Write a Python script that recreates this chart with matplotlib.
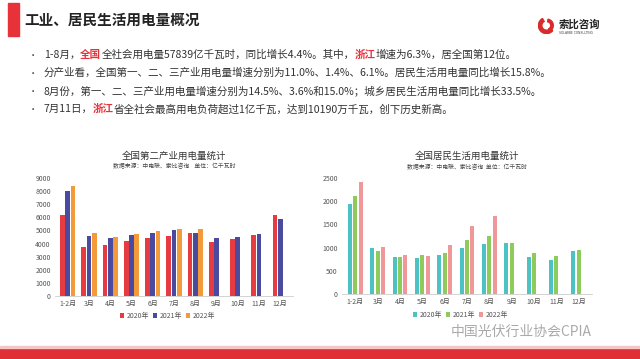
import numpy as np
import matplotlib
matplotlib.use("Agg")
import matplotlib.pyplot as plt
from matplotlib.patches import Rectangle, Wedge

plt.rcParams['font.family'] = ['Noto Sans CJK SC', 'DejaVu Sans']

# === Données ===
months = ['1-2月', '3月', '4月', '5月', '6月', '7月', '8月', '9月', '10月', '11月', '12月']
years = ['2020年', '2021年', '2022年']

ind_2020 = [6200, 3700, 3880, 4190, 4400, 4580, 4800, 4110, 4320, 4650, 6160]
ind_2021 = [8000, 4600, 4420, 4680, 4830, 5040, 4830, 4420, 4500, 4760, 5850]
ind_2022 = [8400, 4800, 4470, 4760, 4960, 5140, 5110]

res_2020 = [1940, 995, 805, 770, 830, 980, 1080, 1100, 805, 730, 915]
res_2021 = [2120, 930, 800, 835, 885, 1170, 1250, 1100, 885, 815, 950]
res_2022 = [2410, 1015, 835, 815, 1045, 1470, 1675]

bullets = [
    [("1-8月，", None), ("全国", 'red'), ("全社会用电量57839亿千瓦时，同比增长4.4%。其中，", None),
     ("浙江", 'red'), ("增速为6.3%，居全国第12位。", None)],
    [("分产业看，全国第一、二、三产业用电量增速分别为11.0%、1.4%、6.1%。居民生活用电量同比增长15.8%。", None)],
    [("8月份，第一、二、三产业用电量增速分别为14.5%、3.6%和15.0%；城乡居民生活用电量同比增长33.5%。", None)],
    [("7月11日，", None), ("浙江", 'red'), ("省全社会最高用电负荷超过1亿千瓦，达到10190万千瓦，创下历史新高。", None)],
]

W, H = 640, 359
fig = plt.figure(figsize=(W / 100, H / 100), dpi=100)
fig.patch.set_facecolor('white')

def px(x, y):
    return x / W, 1 - y / H

# === En-tête ===
fig.patches.append(Rectangle(px(8, 36), 11 / W, 33 / H, transform=fig.transFigure,
                             color='#E8323A', zorder=1))
fig.text(*px(24, 20), '工业、居民生活用电量概况', fontsize=10.5, fontweight='bold',
         va='center', ha='left', color='#222222')

# logo
logo_ax = fig.add_axes([538 / W, 1 - 34 / H, 17 / W, 17 / H])
logo_ax.set_xlim(-1, 1)
logo_ax.set_ylim(-1, 1)
logo_ax.set_aspect('equal')
logo_ax.axis('off')
logo_ax.add_patch(Wedge((0, 0), 0.95, 120, 320, width=0.4, color='#D92B2B'))
logo_ax.add_patch(Wedge((0.05, 0.0), 0.75, 300, 80, width=0.3, color='#D92B2B'))
fig.text(*px(559, 24), '索比咨询', fontsize=7.5, fontweight='bold', va='center',
         ha='left', color='#222222')
fig.text(*px(559, 33), 'SOLARBE CONSULTING', fontsize=2.2, va='center', ha='left',
         color='#444444', family='DejaVu Sans')

# === Puces ===
fig.canvas.draw()
renderer = fig.canvas.get_renderer()
line_y = [55, 73, 91, 109]
for parts, y in zip(bullets, line_y):
    fig.text(*px(29, y), '•', fontsize=6, va='center', ha='left', color='#333333')
    x = 44
    for txt, col in parts:
        t = fig.text(*px(x, y), txt, fontsize=7.6, va='center', ha='left',
                     color='#E8323A' if col else '#333333',
                     fontweight='bold' if col else 'normal')
        x += t.get_window_extent(renderer).width

# === Graphiques ===
def bar_chart(rect, series, colors, ylim, yticks, title, subtitle, width, offset, legend_y):
    ax = fig.add_axes(rect)
    x = np.arange(len(months))
    for i, (vals, c) in enumerate(zip(series, colors)):
        ax.bar(x[:len(vals)] + (i - 1) * offset, vals, width=width, color=c,
               label=years[i], zorder=2)
    ax.set_xlim(-0.6, len(months) - 0.4)
    ax.set_ylim(*ylim)
    ax.set_yticks(yticks)
    ax.set_xticks(x)
    ax.set_xticklabels(months)
    ax.tick_params(axis='both', length=0, labelsize=5, colors='#555555', pad=3)
    for s in ['top', 'right', 'left']:
        ax.spines[s].set_visible(False)
    ax.spines['bottom'].set_color('#cccccc')
    ax.spines['bottom'].set_linewidth(0.6)
    cx = rect[0] + rect[2] / 2
    ax.text(0.5, 1.19, title, transform=ax.transAxes, ha='center', va='center',
            fontsize=6.8, color='#333333')
    ax.text(0.5, 1.10, subtitle, transform=ax.transAxes, ha='center', va='center',
            fontsize=4.2, color='#444444')
    fig.legend(*ax.get_legend_handles_labels(), loc='center',
               bbox_to_anchor=(cx - 0.01, legend_y), ncol=3, frameon=False,
               fontsize=5, handlelength=0.6, handleheight=0.6, handletextpad=0.3,
               columnspacing=0.6, labelcolor='#555555')
    return ax

bar_chart([55 / W, 1 - 295.7 / H, 238 / W, 117.4 / H],
          [ind_2020, ind_2021, ind_2022], ['#E63B40', '#4A4A9E', '#F39A3B'],
          (0, 9000), range(0, 9001, 1000), '全国第二产业用电量统计',
          '数据来源：中电联、索比咨询    单位：亿千瓦时', 0.22, 0.25, 1 - 316 / H)

bar_chart([342 / W, 1 - 293.7 / H, 250 / W, 115.4 / H],
          [res_2020, res_2021, res_2022], ['#4CC2C4', '#8DCB5B', '#F0979A'],
          (0, 2500), range(0, 2501, 500), '全国居民生活用电量统计',
          '数据来源：中电联、索比咨询  单位：亿千瓦时', 0.18, 0.24, 1 - 315 / H)

# === Pied de page ===
fig.text(*px(451, 332), '中国光伏行业协会CPIA', fontsize=10, va='center', ha='left',
         color='#AAAAAA')
fig.patches.append(Rectangle((0, 0), 1, 11.5 / H, transform=fig.transFigure,
                             color='#E03036', zorder=1))
fig.patches.append(Rectangle((0, 11.5 / H), 1, 1.5 / H, transform=fig.transFigure,
                             color='#F4C5C7', zorder=1))

fig.savefig('out.png', dpi=100)
